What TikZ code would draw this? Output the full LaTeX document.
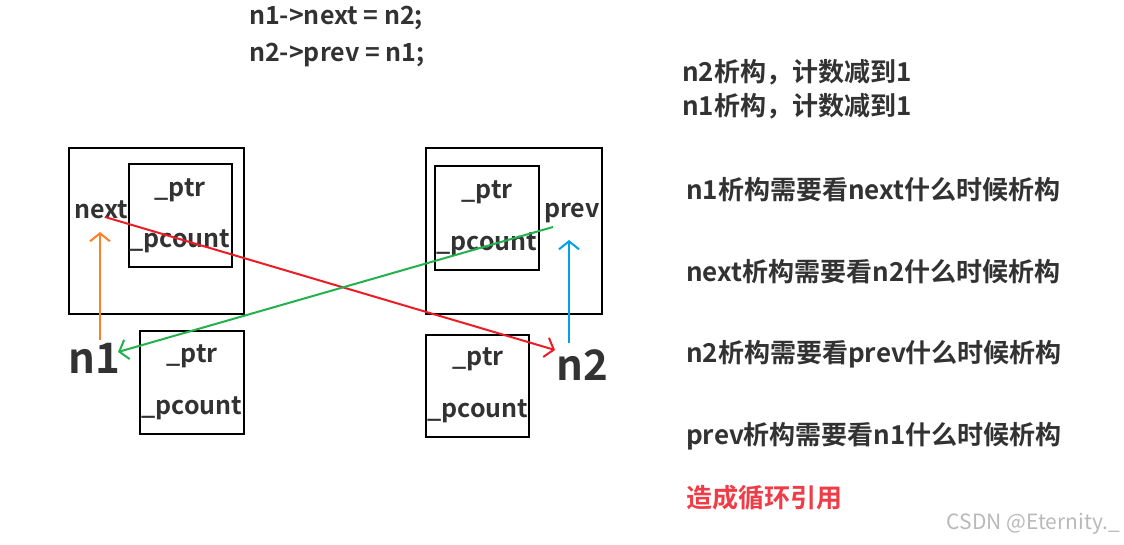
\documentclass[tikz,border=0pt]{standalone}
\usepackage{fontspec}
\setmainfont{Noto Sans CJK SC}[BoldFont={Noto Sans CJK SC Bold}]
\usetikzlibrary{arrows.meta}
\definecolor{porange}{RGB}{255,127,39}
\definecolor{pred}{RGB}{237,28,36}
\definecolor{pgreen}{RGB}{34,177,76}
\definecolor{pblue}{RGB}{0,162,232}
\definecolor{tred}{RGB}{240,60,70}
\definecolor{tgray}{RGB}{50,50,50}
\definecolor{wgray}{RGB}{185,185,185}
\tikzset{
  box/.style={draw=black,line width=2.6pt,inner sep=0pt},
  lbl/.style={inner sep=0pt,font=\fontsize{25}{30}\selectfont\bfseries,text=tgray},
  big/.style={inner sep=0pt,font=\fontsize{42}{48}\selectfont\bfseries,text=tgray},
  rtxt/.style={inner sep=0pt,anchor=west,font=\fontsize{26}{30}\selectfont\bfseries,text=tgray},
  code/.style={inner sep=0pt,anchor=west,font=\fontsize{25}{30}\selectfont\bfseries,text=tgray},
  arr/.style={line width=2pt,-{Straight Barb[length=8pt,width=20pt,line width=2pt]}}
}
\begin{document}
\begin{tikzpicture}[x=1pt,y=-1pt]
\useasboundingbox (0,0) rectangle (1124,544);
% top code
\node[code] (c1) at (249,18) {n1->next = n2;};
\node[code] (c2) at (249,55) {n2->prev = n1;};
% left object
\node[box,minimum width=175pt,minimum height=166pt] (A) at (156.5,231) {};
\node[box,minimum width=103pt,minimum height=103pt] (Ai) at (180.5,215.5) {};
\node[lbl] (Aptr) at (180,190) {\_ptr};
\node[lbl] (Apc) at (180,241) {\_pcount};
\node[lbl] (next) at (101,210) {next};
\node[box,minimum width=104pt,minimum height=103pt] (Ab) at (192,382.5) {};
\node[lbl] (Abptr) at (192,356) {\_ptr};
\node[lbl] (Abpc) at (192,408) {\_pcount};
\node[big] (n1) at (94,358) {n1};
% right object
\node[box,minimum width=176pt,minimum height=166pt] (B) at (514,231) {};
\node[box,minimum width=104pt,minimum height=104pt] (Bi) at (487,218) {};
\node[lbl] (Bptr) at (487,192) {\_ptr};
\node[lbl] (Bpc) at (487,244) {\_pcount};
\node[lbl] (prev) at (572,213) {prev};
\node[box,minimum width=103pt,minimum height=102pt] (Bb) at (477.5,386) {};
\node[lbl] (Bbptr) at (478,359) {\_ptr};
\node[lbl] (Bbpc) at (478,411) {\_pcount};
\node[big] (n2) at (582,365) {n2};
% arrow end points
\coordinate (oS) at (100,340);
\coordinate (oE) at (100,232);
\coordinate (rS) at (105,217);
\coordinate (rE) at (555,350);
\coordinate (gS) at (553,227);
\coordinate (gE) at (118,352);
\coordinate (bS) at (569,343);
\coordinate (bE) at (569,240);
\draw[arr,porange] (oS) -- (oE);
\draw[arr,pred] (rS) -- (rE);
\draw[arr,pgreen] (gS) -- (gE);
\draw[arr,pblue] (bS) -- (bE);
% right texts
\node[rtxt] (t1) at (682,72) {n2析构，计数减到1};
\node[rtxt] (t2) at (682,106) {n1析构，计数减到1};
\node[rtxt] (t3) at (686,190) {n1析构需要看next什么时候析构};
\node[rtxt] (t4) at (686,272) {next析构需要看n2什么时候析构};
\node[rtxt] (t5) at (686,354) {n2析构需要看prev什么时候析构};
\node[rtxt] (t6) at (686,436) {prev析构需要看n1什么时候析构};
\node[rtxt,text=tred] (t7) at (686,498) {造成循环引用};
\node[inner sep=0pt,anchor=east,font=\fontsize{21}{24}\selectfont,text=wgray] (wm) at (1120,524) {CSDN @Eternity.\_};
\end{tikzpicture}
\end{document}
